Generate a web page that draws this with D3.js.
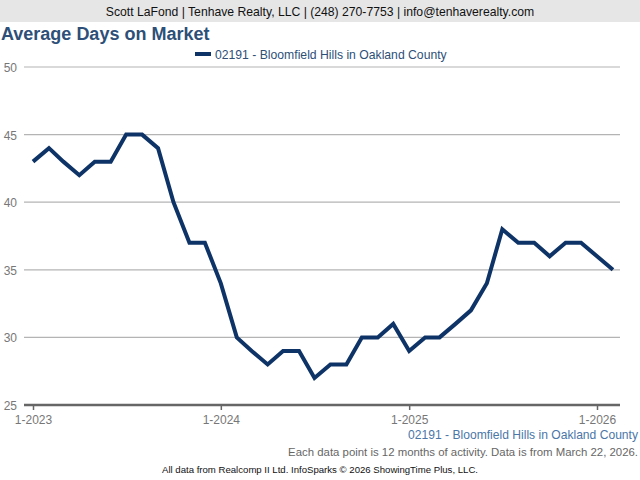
<!DOCTYPE html>
<html><head><meta charset="utf-8">
<script src="https://cdn.jsdelivr.net/npm/d3@7"></script>
<style>body{margin:0;background:#fff}svg{display:block}</style>
</head><body><svg id="c" width="640" height="480"></svg>
<script>
const seriesName = "02191 - Bloomfield Hills in Oakland County";
const startMonth = [2023, 0];
const values = [43,44,43,42,43,43,45,45,44,40,37,37,
                34,30,29,28,29,29,27,28,28,30,30,31,
                29,30,30,31,32,34,38,37,37,36,37,37,
                36,35];
const yTicks = [25,30,35,40,45,50];
const xTickLabels = ["1-2023","1-2024","1-2025","1-2026"];
const xTickDates = [new Date(2023,0,1),new Date(2024,0,1),new Date(2025,0,1),new Date(2026,0,1)];

const dates = values.map((v,i)=>new Date(startMonth[0], startMonth[1]+i, 1));
const data = values.map((v,i)=>({d:dates[i], v}));

const svg = d3.select("#c");
const font = "Arial, 'Liberation Sans', Helvetica, sans-serif";

// header band
svg.append("rect").attr("x",0).attr("y",0).attr("width",640).attr("height",22).attr("fill","#e6e6e6");
svg.append("text").attr("x",320).attr("y",15.5).attr("text-anchor","middle")
  .attr("font-family",font).attr("font-size",12.2).attr("fill","#111")
  .text("Scott LaFond | Tenhave Realty, LLC | (248) 270-7753 | info@tenhaverealty.com");

// title
svg.append("text").attr("x",1).attr("y",40).attr("font-family",font).attr("font-size",18)
  .attr("font-weight","bold").attr("fill","#2d4f78").text("Average Days on Market");

// legend
svg.append("line").attr("x1",195).attr("x2",211).attr("y1",54).attr("y2",54)
  .attr("stroke","#0e3366").attr("stroke-width",4);
svg.append("text").attr("x",215).attr("y",58.5).attr("font-family",font).attr("font-size",12.2)
  .attr("fill","#2d4f78").text(seriesName);

const x = d3.scaleTime().domain([new Date(2023,0,1), new Date(2026,0,1)]).range([33,597]);
const y = d3.scaleLinear().domain([25,50]).range([405,67]);

// gridlines
const gl = svg.append("g");
gl.selectAll("line").data(yTicks.filter(t=>t>25)).join("line")
  .attr("x1",24).attr("x2",620).attr("y1",d=>y(d)).attr("y2",d=>y(d))
  .attr("stroke","#b4b4b4").attr("stroke-width",1.2);

// y labels
svg.append("g").selectAll("text").data(yTicks).join("text")
  .attr("x",17).attr("y",d=>y(d)+5).attr("text-anchor","end")
  .attr("font-family",font).attr("font-size",12).attr("fill","#777").text(d=>d);

// x axis
const xAxis = d3.axisBottom(x).tickValues(xTickDates).tickSize(5).tickSizeOuter(0)
  .tickFormat((d,i)=>xTickLabels[i]);
const ax = svg.append("g").attr("transform",`translate(0,${y(25)})`).call(xAxis);
ax.select(".domain").remove();
ax.append("line").attr("x1",24).attr("x2",620).attr("y1",0).attr("y2",0)
  .attr("stroke","#666").attr("stroke-width",2.5);
ax.selectAll(".tick line").attr("stroke","#666").attr("stroke-width",1.5);
ax.selectAll(".tick text").attr("font-family",font).attr("font-size",12).attr("fill","#777").attr("dy","0.9em");

// line
svg.append("path").datum(data)
  .attr("d", d3.line().x(d=>x(d.d)).y(d=>y(d.v)))
  .attr("fill","none").attr("stroke","#0e3366").attr("stroke-width",4)
  .attr("stroke-linejoin","miter").attr("stroke-linecap","butt");

// captions
svg.append("text").attr("x",638).attr("y",439).attr("text-anchor","end")
  .attr("font-family",font).attr("font-size",12.1).attr("fill","#4a76a8").text(seriesName);
svg.append("text").attr("x",638).attr("y",456).attr("text-anchor","end")
  .attr("font-family",font).attr("font-size",11.4).attr("fill","#666")
  .text("Each data point is 12 months of activity. Data is from March 22, 2026.");
svg.append("text").attr("x",320).attr("y",473).attr("text-anchor","middle")
  .attr("font-family",font).attr("font-size",9.6).attr("fill","#111")
  .text("All data from Realcomp II Ltd. InfoSparks © 2026 ShowingTime Plus, LLC.");
</script></body></html>
